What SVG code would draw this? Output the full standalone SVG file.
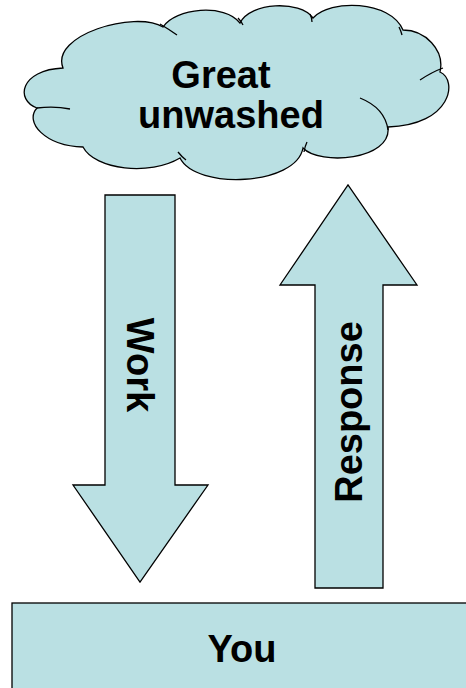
<svg xmlns="http://www.w3.org/2000/svg" width="466" height="688" viewBox="0 0 466 688">
<style>
.shape{fill:#BAE0E3;stroke:#000;stroke-width:1.3;stroke-linejoin:miter}
.crease{fill:none;stroke:#000;stroke-width:1.3}
.lbl{font-family:"Liberation Sans",Arial,sans-serif;font-weight:bold;font-size:38px;fill:#000;text-anchor:middle}
</style>
<rect width="466" height="688" fill="#fff"/>
<g id="cloud">
<path class="shape" d="M63,68 C50,35 135,10 163,27 C175,8 225,3 240,23 C250,2 300,0 313,18 C330,-1 390,0 403,30 C425,30 445,50 440,72 C458,80 452,125 388,127 C392,160 320,166 303,148 C296,186 196,190 180,158 C150,176 95,170 83,147 C45,146 24,122 37,108 C15,100 20,70 63,68 Z"/>
<path class="crease" d="M37,108 Q55,106 70,109 M160,24 Q170,30 177,35 M238,18 Q241,21 243,25 M310,14 Q312,18 312,22 M399,27 Q401,31 402,35 M443,68 Q432,72 420,80 M388,130 Q385,108 360,98 M304,152 Q305,146 307,142 M178,152 Q182,157 186,160"/>
<text class="lbl" x="221" y="88">Great</text>
<text class="lbl" x="231" y="128">unwashed</text>
</g>
<g id="connectors">
<g id="work">
<polygon class="shape" points="105,195 175,195 175,485 208,485 140,582 73,485 105,485"/>
<text class="lbl" transform="translate(127,365) rotate(90)">Work</text>
</g>
<g id="response">
<polygon class="shape" points="315,588 383,588 383,285 417,285 348,185 280,285 315,285"/>
<text class="lbl" transform="translate(362,412) rotate(-90)">Response</text>
</g>
</g>
<g id="you">
<rect class="shape" x="12" y="603" width="470" height="100"/>
<text class="lbl" x="242" y="662">You</text>
</g>
</svg>
